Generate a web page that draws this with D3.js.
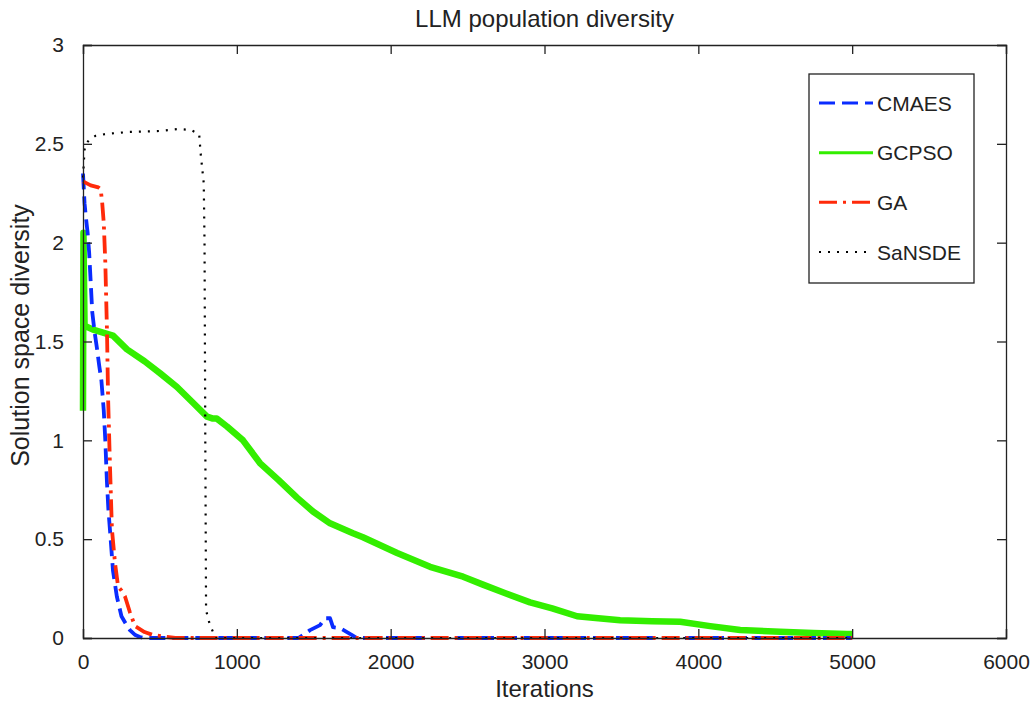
<!DOCTYPE html>
<html>
<head>
<meta charset="utf-8">
<script src="https://cdn.jsdelivr.net/npm/d3@7"></script>
<style>
  html, body { margin: 0; padding: 0; background: #fff; }
  svg { display: block; font-family: "Liberation Sans", Arial, sans-serif; }
</style>
</head>
<body>
<svg id="chart" width="1033" height="702"></svg>
<script>
// ---- data ----
const titleText = "LLM population diversity";
const xLabel = "Iterations";
const yLabel = "Solution space diversity";
const xTicks = [0, 1000, 2000, 3000, 4000, 5000, 6000];
const yTicks = [0, 0.5, 1, 1.5, 2, 2.5, 3];
const seriesNames = ["CMAES", "GCPSO", "GA", "SaNSDE"];

const cmaesIter = [0, 10, 20, 30, 40, 50, 60, 75, 90, 105, 120, 135, 145, 155, 165, 175, 195, 220, 250, 280, 305, 340, 370, 400,
  1400, 1430, 1476, 1541, 1573, 1606, 1625, 1671, 1716, 1749, 1780, 5000];
const cmaesVal = [2.35, 2.2, 2.12, 2.05, 1.95, 1.8, 1.65, 1.55, 1.47, 1.38, 1.3, 1.15, 1.0, 0.8, 0.65, 0.55, 0.34, 0.21, 0.11, 0.07, 0.04, 0.015, 0.005, 0,
  0, 0.015, 0.04, 0.065, 0.1, 0.1, 0.055, 0.05, 0.03, 0.015, 0, 0];

const gcpsoIter = [0, 3, 10, 65, 195, 286, 400, 500, 611, 715, 806, 845, 870, 936, 1040, 1150, 1270, 1391, 1495, 1606, 1755, 1820, 2042,
  2256, 2471, 2600, 2750, 2906, 3050, 3212, 3350, 3492, 3700, 3882, 4077, 4272, 4532, 4746, 4967, 5000];
const gcpsoVal = [1.15, 2.05, 1.58, 1.56, 1.53, 1.46, 1.40, 1.34, 1.27, 1.19, 1.12, 1.11, 1.11, 1.07, 1.0, 0.885, 0.80, 0.71, 0.64, 0.58, 0.53, 0.51, 0.43,
  0.36, 0.31, 0.27, 0.225, 0.18, 0.15, 0.11, 0.10, 0.09, 0.085, 0.082, 0.06, 0.04, 0.032, 0.025, 0.02, 0.02];

const gaIter = [0, 50, 100, 115, 125, 135, 145, 156, 163, 175, 188, 208, 228, 250, 273, 305, 338, 400, 455, 545, 600, 5000];
const gaVal = [2.31, 2.29, 2.28, 2.27, 2.2, 2.1, 1.9, 1.55, 1.22, 0.88, 0.55, 0.38, 0.26, 0.24, 0.21, 0.13, 0.06, 0.03, 0.015, 0.005, 0, 0];

const sansdeIter = [0, 5, 10, 20, 40, 80, 150, 300, 500, 620, 700, 755, 765, 785, 790, 795, 800, 820, 840, 860, 5000];
const sansdeVal = [2.33, 2.4, 2.47, 2.5, 2.52, 2.54, 2.55, 2.56, 2.565, 2.575, 2.57, 2.55, 2.45, 2.3, 2.0, 1.0, 0.14, 0.08, 0.04, 0, 0];

// ---- styles ----
const colors = { CMAES: "#0a2cff", GCPSO: "#33ee00", GA: "#ff2a0a", SaNSDE: "#000000" };
const dashes = { CMAES: "16,7", GCPSO: null, GA: "18,6,3,6", SaNSDE: "2,7" };
const widths = { CMAES: 3.8, GCPSO: 6.5, GA: 3.8, SaNSDE: 2.2 };
const legendWidths = { CMAES: 3, GCPSO: 3, GA: 3, SaNSDE: 2 };

const svg = d3.select("#chart");
const W = 1033, H = 702;
const m = { left: 83, top: 45, right: 27, bottom: 64 };
const x = d3.scaleLinear().domain([0, 6000]).range([m.left, W - m.right]);
const y = d3.scaleLinear().domain([0, 3]).range([H - m.bottom, m.top]);

const zip = (a, b) => a.map((v, i) => [v, b[i]]);
const data = {
  GCPSO: zip(gcpsoIter, gcpsoVal),
  CMAES: zip(cmaesIter, cmaesVal),
  GA: zip(gaIter, gaVal),
  SaNSDE: zip(sansdeIter, sansdeVal)
};

const line = d3.line().x(d => x(d[0])).y(d => y(d[1]));

const plot = svg.append("g");
["GCPSO", "CMAES", "GA", "SaNSDE"].forEach(name => {
  plot.append("path")
    .datum(data[name])
    .attr("d", line)
    .attr("fill", "none")
    .attr("stroke", colors[name])
    .attr("stroke-width", widths[name])
    .attr("stroke-dasharray", dashes[name])
    .attr("stroke-linejoin", "round");
});

// ---- axes (MATLAB box style, inward ticks) ----
const tickLen = 9;
const fontSize = 21;
const labelSize = 24;
const axB = svg.append("g").attr("transform", `translate(0,${y(0)})`)
  .call(d3.axisBottom(x).tickValues(xTicks).tickFormat(d3.format("d")).tickSize(-tickLen).tickPadding(tickLen + 7));
const axT = svg.append("g").attr("transform", `translate(0,${y(3)})`)
  .call(d3.axisTop(x).tickValues(xTicks).tickFormat("").tickSize(-tickLen));
const axL = svg.append("g").attr("transform", `translate(${x(0)},0)`)
  .call(d3.axisLeft(y).tickValues(yTicks).tickFormat(d3.format("~g")).tickSize(-tickLen).tickPadding(tickLen + 10));
const axR = svg.append("g").attr("transform", `translate(${x(6000)},0)`)
  .call(d3.axisRight(y).tickValues(yTicks).tickFormat("").tickSize(-tickLen));
[axB, axT, axL, axR].forEach(g => {
  g.select(".domain").attr("stroke", "#222").attr("stroke-width", 1.3);
  g.selectAll(".tick line").attr("stroke", "#222").attr("stroke-width", 1.3);
  g.selectAll(".tick text").attr("font-size", fontSize).attr("fill", "#222")
    .attr("font-family", "'Liberation Sans', Arial, sans-serif");
});

// ---- titles ----
svg.append("text").attr("x", (x(0) + x(6000)) / 2).attr("y", 27)
  .attr("text-anchor", "middle").attr("font-size", labelSize).attr("fill", "#222").text(titleText);
svg.append("text").attr("x", (x(0) + x(6000)) / 2).attr("y", 697)
  .attr("text-anchor", "middle").attr("font-size", labelSize).attr("fill", "#222").text(xLabel);
svg.append("text")
  .attr("transform", `translate(29,${(y(0) + y(3)) / 2 - 6}) rotate(-90)`)
  .attr("text-anchor", "middle").attr("font-size", labelSize + 1).attr("fill", "#222").text(yLabel);

// ---- legend ----
const lg = svg.append("g");
lg.append("rect").attr("x", 809).attr("y", 74).attr("width", 165).attr("height", 209)
  .attr("fill", "#fff").attr("stroke", "#222").attr("stroke-width", 1.3);
const ly = d3.scalePoint().domain(seriesNames).range([103, 252]);
seriesNames.forEach(name => {
  const yy = ly(name);
  lg.append("line").attr("x1", 819).attr("x2", 873).attr("y1", yy).attr("y2", yy)
    .attr("stroke", colors[name]).attr("stroke-width", legendWidths[name])
    .attr("stroke-dasharray", dashes[name]);
  lg.append("text").attr("x", 877).attr("y", yy).attr("dy", "0.36em")
    .attr("font-size", 21).attr("fill", "#222").text(name);
});
</script>
</body>
</html>
